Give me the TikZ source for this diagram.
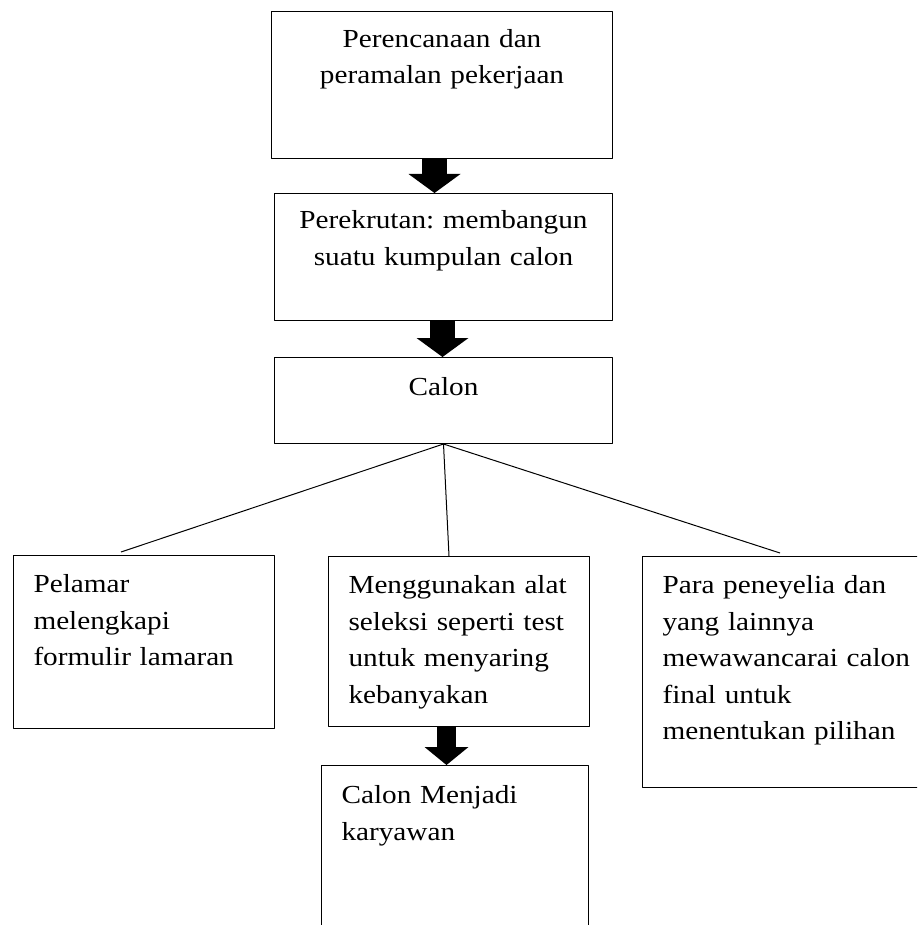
\documentclass[tikz,border=0pt]{standalone}
\usepackage{fontspec}
\setmainfont{Liberation Serif}[FakeStretch=1.125]
\usetikzlibrary{arrows.meta}
\frenchspacing

\tikzset{
  kotak/.style={draw, line width=1pt, anchor=north west, inner ysep=0pt, inner xsep=20pt, align=left},
  kotaktengah/.style={kotak, inner xsep=10pt, align=center},
  panah/.style={line width=25pt, line cap=butt, -{Triangle[length=19pt,width=52pt,line width=0pt]}},
  panahkecil/.style={line width=19pt, line cap=butt, -{Triangle[length=18pt,width=44pt,line width=0pt]}},
  garis/.style={line width=1pt}
}

\begin{document}
\begin{tikzpicture}[x=1pt, y=-1pt, font=\fontsize{26}{36.5}\selectfont, line join=round]
            \useasboundingbox (0,0) rectangle (917,925);
            \clip (0,0) rectangle (917,925);
            % kotak atas
            \node[kotaktengah, text width=321pt, text height=36pt, text depth=111pt] (rencana) at (271,11) {Perencanaan dan\\ peramalan pekerjaan};
            \node[kotaktengah, text width=318pt, text height=35pt, text depth=92pt] (rekrut) at (274,193) {Perekrutan: membangun\\ suatu kumpulan calon};
            \node[kotaktengah, text width=318pt, text height=38pt, text depth=48pt] (calon) at (274,357) {Calon};
            % kotak bawah
            \node[kotak, text width=221pt, text height=37pt, text depth=136pt] (pelamar) at (13,555) {Pelamar\\ melengkapi\\ formulir lamaran};
            \node[kotak, text width=221pt, text height=37pt, text depth=133pt] (seleksi) at (328,556) {Menggunakan alat\\ seleksi seperti test\\ untuk menyaring\\ kebanyakan};
            \node[kotak, text width=227pt, text height=38pt, text depth=200pt] (karyawan) at (321,765) {Calon Menjadi\\ karyawan};
            \node[kotak, text width=260pt, text height=37pt, text depth=194pt] (wawancara) at (642,556) {Para peneyelia dan\\ yang lainnya\\ mewawancarai calon\\ final untuk\\ menentukan pilihan};
            % garis dari calon
            \coordinate (kiri) at (121,552);
            \coordinate (tengah) at (449,556);
            \coordinate (kanan) at (780,553);
            \draw[garis] (calon.south) -- (kiri);
            \draw[garis] (calon.south) -- (tengah);
            \draw[garis] (calon.south) -- (kanan);
            % panah tebal
            \coordinate (p1) at ([xshift=-7.5pt]rencana.south);
            \coordinate (p2) at ([xshift=-1pt]rekrut.south);
            \coordinate (p3) at ([xshift=-12.5pt]seleksi.south);
            \draw[panah] (p1) -- (p1 |- rekrut.north);
            \draw[panah] (p2) -- (p2 |- calon.north);
            \draw[panahkecil] (p3) -- (p3 |- karyawan.north);
\end{tikzpicture}
\end{document}
